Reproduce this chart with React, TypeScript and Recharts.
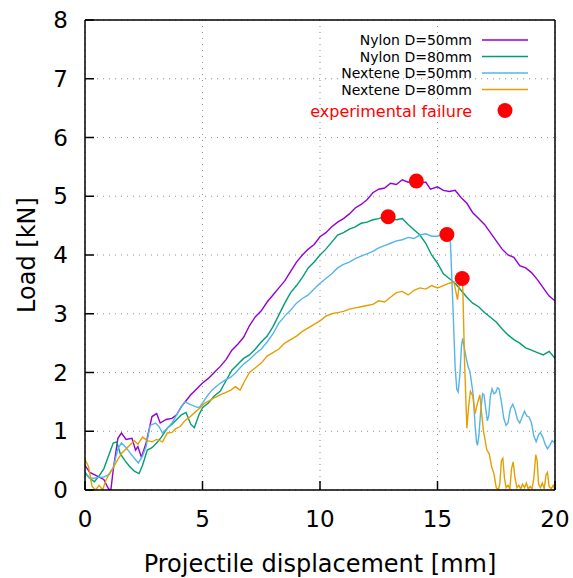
import React from 'react';
import { LineChart, Line, XAxis, YAxis, CartesianGrid, Scatter, Customized } from 'recharts';

const xTicks = [0, 5, 10, 15, 20];
const yTicks = [0, 1, 2, 3, 4, 5, 6, 7, 8];

const seriesNames = ['Nylon D=50mm', 'Nylon D=80mm', 'Nextene D=50mm', 'Nextene D=80mm'];
const seriesColors = ['#9400D3', '#009E73', '#56B4E9', '#E69F00'];

const nylon50: [number, number][] = [
  [0, 0.42], [0.2, 0.30], [0.4, 0.26], [0.6, 0.22], [0.8, 0.18], [1.0, 0.02], [1.1, 0.0], [1.2, 0.34],
  [1.4, 0.88], [1.55, 0.97], [1.75, 0.86], [2.0, 0.88], [2.15, 0.68], [2.25, 0.74], [2.4, 0.56], [2.6, 0.80],
  [2.85, 1.25], [3.05, 1.30], [3.2, 1.14], [3.45, 1.20], [3.7, 1.22], [3.9, 1.28], [4.1, 1.42], [4.3, 1.52],
  [4.5, 1.62], [4.75, 1.72], [5.0, 1.82], [5.25, 1.90], [5.5, 2.00], [5.75, 2.10], [6.0, 2.22], [6.25, 2.38],
  [6.5, 2.48], [6.75, 2.60], [7.0, 2.80], [7.25, 2.95], [7.5, 3.05], [7.75, 3.20], [8.0, 3.32], [8.25, 3.44],
  [8.5, 3.56], [8.75, 3.72], [9.0, 3.88], [9.25, 4.00], [9.5, 4.10], [9.75, 4.18], [10.0, 4.31], [10.25, 4.38],
  [10.5, 4.48], [10.75, 4.56], [11.0, 4.62], [11.25, 4.70], [11.5, 4.80], [11.75, 4.86], [12.0, 4.94],
  [12.25, 5.06], [12.5, 5.12], [12.75, 5.14], [13.0, 5.22], [13.25, 5.20], [13.5, 5.28], [13.75, 5.24],
  [14.0, 5.26], [14.25, 5.22], [14.5, 5.24], [14.7, 5.12], [15.0, 5.16], [15.25, 5.10], [15.5, 5.08],
  [15.75, 5.10], [16.0, 4.98], [16.25, 4.88], [16.5, 4.72], [16.75, 4.62], [17.0, 4.52], [17.25, 4.38],
  [17.5, 4.24], [17.75, 4.10], [18.0, 4.00], [18.25, 3.96], [18.5, 3.82], [18.75, 3.78], [19.0, 3.70],
  [19.25, 3.58], [19.5, 3.44], [19.75, 3.30], [20.0, 3.22],
];

const nylon80: [number, number][] = [
  [0, 0.30], [0.2, 0.20], [0.4, 0.14], [0.6, 0.24], [0.8, 0.36], [1.0, 0.58], [1.2, 0.80], [1.35, 0.82],
  [1.5, 0.62], [1.7, 0.50], [1.9, 0.40], [2.1, 0.32], [2.3, 0.28], [2.45, 0.42], [2.65, 0.68], [2.85, 0.72],
  [3.05, 0.80], [3.25, 0.90], [3.5, 1.05], [3.7, 1.12], [3.9, 1.20], [4.1, 1.28], [4.3, 1.32], [4.5, 1.12],
  [4.65, 1.06], [4.85, 1.28], [5.0, 1.40], [5.25, 1.48], [5.5, 1.60], [5.75, 1.68], [6.0, 1.86], [6.25, 2.04],
  [6.5, 2.14], [6.75, 2.24], [7.0, 2.30], [7.25, 2.40], [7.5, 2.52], [7.75, 2.62], [8.0, 2.78], [8.25, 2.98],
  [8.5, 3.18], [8.75, 3.36], [9.0, 3.48], [9.25, 3.62], [9.5, 3.78], [9.75, 3.88], [10.0, 4.00], [10.25, 4.10],
  [10.5, 4.22], [10.75, 4.34], [11.0, 4.38], [11.25, 4.44], [11.5, 4.48], [11.75, 4.54], [12.0, 4.56],
  [12.25, 4.60], [12.5, 4.62], [12.75, 4.66], [13.0, 4.63], [13.25, 4.60], [13.5, 4.62], [13.75, 4.52],
  [14.0, 4.43], [14.25, 4.34], [14.5, 4.20], [14.75, 4.00], [15.0, 3.86], [15.25, 3.68], [15.5, 3.60],
  [15.75, 3.52], [16.0, 3.40], [16.25, 3.28], [16.5, 3.18], [16.75, 3.12], [17.0, 3.02], [17.25, 2.94],
  [17.5, 2.86], [17.75, 2.74], [18.0, 2.64], [18.25, 2.56], [18.5, 2.50], [18.75, 2.42], [19.0, 2.38],
  [19.25, 2.34], [19.5, 2.30], [19.75, 2.36], [20.0, 2.24],
];

const nextene50: [number, number][] = [
  [0, 0.28], [0.2, 0.20], [0.4, 0.20], [0.6, 0.22], [0.8, 0.22], [1.0, 0.26], [1.2, 0.38], [1.4, 0.70],
  [1.55, 0.80], [1.75, 0.72], [1.9, 0.64], [2.1, 0.54], [2.27, 0.46], [2.45, 0.58], [2.6, 0.74], [2.77, 1.10],
  [3.0, 1.14], [3.15, 1.08], [3.3, 0.97], [3.5, 1.05], [3.7, 1.14], [3.9, 1.28], [4.1, 1.42], [4.25, 1.50],
  [4.45, 1.46], [4.7, 1.42], [4.85, 1.40], [5.0, 1.48], [5.2, 1.60], [5.4, 1.70], [5.7, 1.80], [5.96, 1.87],
  [6.2, 1.92], [6.4, 1.99], [6.6, 2.08], [6.8, 2.16], [7.0, 2.22], [7.25, 2.32], [7.5, 2.40], [7.75, 2.52],
  [8.0, 2.66], [8.25, 2.84], [8.5, 2.96], [8.75, 3.06], [9.0, 3.18], [9.25, 3.26], [9.5, 3.32], [9.75, 3.42],
  [10.0, 3.52], [10.25, 3.60], [10.5, 3.68], [10.75, 3.78], [11.0, 3.84], [11.25, 3.88], [11.5, 3.94],
  [11.75, 3.98], [12.0, 4.02], [12.25, 4.06], [12.5, 4.12], [12.75, 4.16], [13.0, 4.20], [13.25, 4.24],
  [13.5, 4.26], [13.75, 4.30], [14.0, 4.28], [14.25, 4.34], [14.5, 4.36], [14.75, 4.32], [15.0, 4.32],
  [15.25, 4.36], [15.4, 4.33], [15.55, 4.22], [15.65, 3.20], [15.75, 2.10], [15.82, 1.72], [15.88, 1.67],
  [15.95, 1.95], [16.02, 2.45], [16.07, 2.58], [16.14, 2.42], [16.22, 2.25], [16.3, 2.10], [16.38, 2.02],
  [16.45, 1.82], [16.52, 1.62], [16.6, 1.10], [16.66, 0.82], [16.7, 0.76], [16.76, 0.92], [16.84, 1.35],
  [16.92, 1.64], [16.98, 1.62], [17.06, 1.36], [17.12, 1.18], [17.18, 1.26], [17.25, 1.60], [17.32, 1.72],
  [17.4, 1.64], [17.48, 1.66], [17.55, 1.74], [17.62, 1.72], [17.72, 1.50], [17.82, 1.22], [17.92, 1.10],
  [18.0, 1.14], [18.1, 1.38], [18.2, 1.46], [18.3, 1.36], [18.4, 1.20], [18.5, 1.14], [18.6, 1.24],
  [18.7, 1.34], [18.8, 1.26], [18.9, 1.24], [19.0, 1.14], [19.1, 0.92], [19.2, 0.82], [19.3, 0.94],
  [19.38, 0.98], [19.48, 0.90], [19.58, 0.78], [19.68, 0.70], [19.78, 0.76], [19.88, 0.84], [20.0, 0.80],
];

const nextene80: [number, number][] = [
  [0, 0.52], [0.15, 0.40], [0.3, 0.06], [0.45, 0.0], [0.6, 0.08], [0.75, 0.0], [0.9, 0.18], [1.05, 0.28],
  [1.2, 0.38], [1.4, 0.52], [1.57, 0.63], [1.75, 0.70], [1.9, 0.76], [2.1, 0.84], [2.25, 0.78], [2.45, 0.90],
  [2.65, 0.84], [2.85, 0.82], [3.05, 0.86], [3.3, 0.82], [3.5, 0.97], [3.7, 0.98], [3.85, 1.04], [4.05, 1.08],
  [4.25, 1.18], [4.45, 1.24], [4.7, 1.33], [4.9, 1.40], [5.1, 1.48], [5.3, 1.52], [5.5, 1.57], [5.75, 1.62],
  [6.0, 1.66], [6.2, 1.70], [6.4, 1.76], [6.6, 1.70], [6.8, 1.86], [7.0, 2.00], [7.25, 2.08], [7.5, 2.16],
  [7.75, 2.28], [8.0, 2.34], [8.25, 2.40], [8.5, 2.50], [8.75, 2.56], [9.0, 2.62], [9.25, 2.70], [9.5, 2.76],
  [9.75, 2.82], [10.0, 2.88], [10.25, 2.96], [10.5, 3.00], [10.75, 3.02], [11.0, 3.04], [11.25, 3.08],
  [11.5, 3.10], [11.75, 3.12], [12.0, 3.14], [12.25, 3.16], [12.5, 3.22], [12.75, 3.20], [13.0, 3.28],
  [13.25, 3.36], [13.5, 3.38], [13.75, 3.32], [14.0, 3.40], [14.25, 3.44], [14.5, 3.42], [14.75, 3.48],
  [15.0, 3.44], [15.25, 3.48], [15.5, 3.52], [15.7, 3.54], [15.85, 3.24], [15.95, 3.58], [16.07, 3.56],
  [16.15, 2.20], [16.25, 1.05], [16.32, 1.40], [16.4, 1.68], [16.5, 1.60], [16.6, 1.30], [16.7, 1.48],
  [16.8, 1.62], [16.88, 1.30], [16.95, 1.02], [17.1, 0.68], [17.2, 0.62], [17.3, 0.40], [17.4, 0.28],
  [17.5, 0.04], [17.58, 0.0], [17.65, 0.10], [17.72, 0.50], [17.78, 0.54], [17.85, 0.20], [17.92, 0.04],
  [18.0, 0.08], [18.08, 0.02], [18.15, 0.36], [18.22, 0.48], [18.3, 0.20], [18.38, 0.04], [18.46, 0.08],
  [18.54, 0.02], [18.62, 0.10], [18.7, 0.04], [18.78, 0.12], [18.86, 0.02], [18.94, 0.06], [19.02, 0.02],
  [19.1, 0.20], [19.18, 0.60], [19.24, 0.50], [19.3, 0.10], [19.38, 0.04], [19.46, 0.12], [19.54, 0.02],
  [19.62, 0.26], [19.68, 0.30], [19.75, 0.06], [19.84, 0.02], [19.92, 0.08], [20.0, 0.0],
];

const failureX = [14.1, 12.9, 15.4, 16.05];
const failureY = [5.26, 4.65, 4.35, 3.6];

const toPoints = (arr: [number, number][]) => arr.map(([x, y]) => ({ x, y }));
const seriesData = [nylon50, nylon80, nextene50, nextene80].map(toPoints);
const failures = failureX.map((x, i) => ({ x, y: failureY[i] }));

const FONT = 'DejaVu Sans';

const LegendBlock = () => {
  const textRight = 472;
  const lineX1 = 482;
  const lineX2 = 528;
  const rowY = [40, 56.5, 73, 89.5];
  return (
    <g>
      {seriesNames.map((name, i) => (
        <g key={name}>
          <text x={textRight} y={rowY[i] + 5.3} textAnchor="end" fontSize={14} fontFamily={FONT} fill="#000">
            {name}
          </text>
          <line x1={lineX1} x2={lineX2} y1={rowY[i]} y2={rowY[i]} stroke={seriesColors[i]} strokeWidth={1.5} />
        </g>
      ))}
      <text x={textRight} y={116.5} textAnchor="end" fontSize={16} fontFamily={FONT} fill="#FF0000">
        experimental failure
      </text>
      <circle cx={505} cy={110.5} r={7.5} fill="#FF0000" />
    </g>
  );
};

const YLabel = (props: any) => {
  const vb = props.viewBox || {};
  const cx = (vb.x ?? 0) + 27;
  const cy = (vb.y ?? 0) + (vb.height ?? 0) / 2;
  return (
    <text x={cx} y={cy} transform={`rotate(-90 ${cx} ${cy})`} textAnchor="middle" dominantBaseline="central"
      fontSize={24} fontFamily={FONT} fill="#000">
      Load [kN]
    </text>
  );
};

const axisStroke = { stroke: '#000', strokeWidth: 1.5 };

export default function App() {
  return (
    <div style={{ position: 'absolute', left: 0, top: 0, width: 573, height: 578, background: '#fff' }}>
      <LineChart width={573} height={578} margin={{ top: 0, right: 0, bottom: 0, left: 0 }}
        style={{ fontFamily: FONT }}>
        <CartesianGrid stroke="#909090" strokeDasharray="1 5" strokeWidth={1} />
        <XAxis xAxisId={0} dataKey="x" type="number" domain={[0, 20]} ticks={xTicks} allowDataOverflow
          height={88} axisLine={axisStroke} tickLine={axisStroke} tickSize={-9} tickMargin={30}
          tick={{ fill: '#000', fontSize: 23, fontFamily: FONT }}
          label={{ value: 'Projectile displacement [mm]', position: 'insideBottom', offset: 6, fontSize: 24, fill: '#000', fontFamily: FONT }} />
        <YAxis yAxisId={0} type="number" domain={[0, 8]} ticks={yTicks} allowDataOverflow
          width={85} axisLine={axisStroke} tickLine={axisStroke} tickSize={-9} tickMargin={26}
          tick={{ fill: '#000', fontSize: 23, fontFamily: FONT }}
          label={<YLabel />} />
        <XAxis xAxisId="top" orientation="top" dataKey="x" type="number" domain={[0, 20]} ticks={xTicks} allowDataOverflow
          height={20} axisLine={axisStroke} tickLine={axisStroke} tickSize={-9} tick={false} />
        <YAxis yAxisId="right" orientation="right" dataKey="y" type="number" domain={[0, 8]} ticks={yTicks} allowDataOverflow
          width={18} axisLine={axisStroke} tickLine={axisStroke} tickSize={-9} tick={false} />
        {seriesData.map((d, i) => (
          <Line key={seriesNames[i]} xAxisId={0} yAxisId={0} data={d} dataKey="y" type="linear"
            stroke={seriesColors[i]} strokeWidth={1.4} dot={false} activeDot={false} isAnimationActive={false} />
        ))}
        <Scatter xAxisId="top" yAxisId="right" data={failures} dataKey="y" fill="#FF0000" isAnimationActive={false}
          shape={(p: any) => <circle cx={p.cx} cy={p.cy} r={7.5} fill="#FF0000" />} />
        <Customized component={<LegendBlock />} />
      </LineChart>
    </div>
  );
}
